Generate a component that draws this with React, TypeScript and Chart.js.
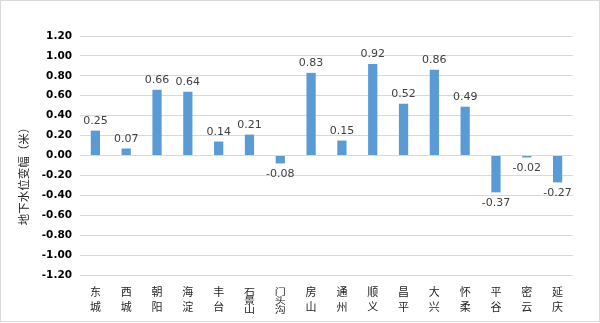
import React, { useEffect, useRef } from "react";
import { Chart, registerables } from "chart.js";

Chart.register(...registerables);

const categories = ["东城", "西城", "朝阳", "海淀", "丰台", "石景山", "门头沟", "房山", "通州", "顺义", "昌平", "大兴", "怀柔", "平谷", "密云", "延庆"];
const values = [0.25, 0.07, 0.66, 0.64, 0.14, 0.21, -0.08, 0.83, 0.15, 0.92, 0.52, 0.86, 0.49, -0.37, -0.02, -0.27];
const yMin = -1.2;
const yMax = 1.2;
const yStep = 0.2;
const yTitle = "地下水位变幅（米）";

const valueLabels = {
  id: "valueLabels",
  afterDatasetsDraw(chart: any) {
    const ctx = chart.ctx;
    const meta = chart.getDatasetMeta(0);
    ctx.save();
    ctx.font = '11px "DejaVu Sans"';
    ctx.fillStyle = "#404040";
    ctx.textAlign = "center";
    meta.data.forEach((bar: any, i: number) => {
      const v = values[i];
      const { x, y } = bar.getProps(["x", "y"], true);
      if (v >= 0) {
        ctx.textBaseline = "bottom";
        ctx.fillText(v.toFixed(2), x, y - 4);
      } else {
        ctx.textBaseline = "top";
        ctx.fillText(v.toFixed(2), x, y + 5);
      }
    });
    ctx.restore();
  },
};

const categoryLabels = {
  id: "categoryLabels",
  afterDraw(chart: any) {
    const ctx = chart.ctx;
    const xs = chart.scales.x;
    const area = chart.chartArea;
    ctx.save();
    ctx.font = '11px "Noto Sans CJK SC"';
    ctx.fillStyle = "#262626";
    ctx.textAlign = "center";
    ctx.textBaseline = "middle";
    categories.forEach((c, i) => {
      const x = xs.getPixelForValue(i);
      const chars = c.split("");
      const squeeze = chars.length > 2;
      const gap = squeeze ? 9.3 : 15;
      chars.forEach((ch, j) => {
        const y = area.bottom + 16.5 + j * gap;
        if (squeeze) {
          ctx.save();
          ctx.translate(x, y);
          ctx.scale(1, 0.8);
          ctx.fillText(ch, 0, 0);
          ctx.restore();
        } else {
          ctx.fillText(ch, x, y);
        }
      });
    });
    ctx.restore();
  },
};

const yTitlePlugin = {
  id: "yTitlePlugin",
  afterDraw(chart: any) {
    const ctx = chart.ctx;
    const area = chart.chartArea;
    ctx.save();
    ctx.translate(23, (area.top + area.bottom) / 2 + 18);
    ctx.rotate(-Math.PI / 2);
    ctx.font = '11.5px "Noto Sans CJK SC"';
    ctx.fillStyle = "#262626";
    ctx.textAlign = "center";
    ctx.textBaseline = "middle";
    ctx.fillText(yTitle, 0, 0);
    ctx.restore();
  },
};

export default function App() {
  const ref = useRef<HTMLCanvasElement>(null);
  useEffect(() => {
    if (!ref.current) return;
    const chart = new Chart(ref.current, {
      type: "bar",
      data: {
        labels: categories,
        datasets: [
          {
            data: values,
            backgroundColor: "#5B9BD5",
            borderWidth: 0,
            barPercentage: 0.3,
            categoryPercentage: 1,
          },
        ],
      },
      options: {
        animation: false,
        responsive: false,
        devicePixelRatio: 1,
        layout: { padding: { top: 35, right: 26, bottom: 46, left: 7 } },
        plugins: { legend: { display: false }, tooltip: { enabled: false } },
        scales: {
          x: {
            grid: { display: false, drawTicks: false },
            border: { display: false },
            ticks: { display: false },
          },
          y: {
            min: yMin,
            max: yMax,
            afterFit: (s: any) => {
              s.width = 72;
            },
            grid: { color: "#d9d9d9", drawTicks: false, lineWidth: 1 },
            border: { display: false },
            ticks: {
              stepSize: yStep,
              padding: 8,
              color: "#000000",
              font: { family: '"DejaVu Sans"', size: 10.5, weight: "bold" },
              callback: (v: any) => (Math.abs(Number(v)) < 1e-9 ? "0.00" : Number(v).toFixed(2)),
            },
          },
        },
      },
      plugins: [valueLabels, categoryLabels, yTitlePlugin],
    });
    return () => chart.destroy();
  }, []);
  return (
    <div
      style={{
        position: "fixed",
        left: 0,
        top: 0,
        width: 600,
        height: 322,
        border: "1px solid #d9d9d9",
        boxSizing: "border-box",
        background: "#fff",
      }}
    >
      <canvas ref={ref} width={598} height={320} style={{ display: "block" }} />
    </div>
  );
}
